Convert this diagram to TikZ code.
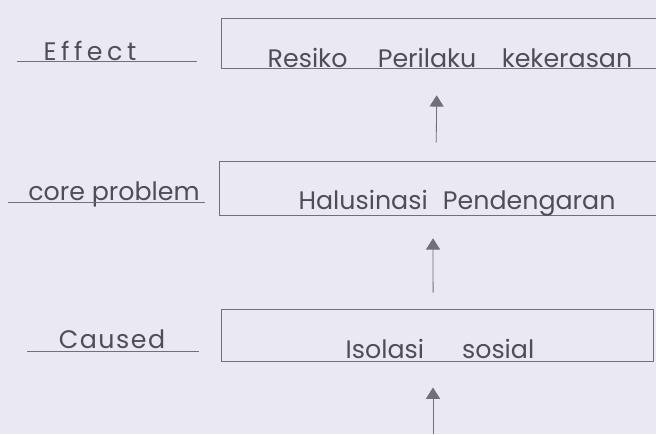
\documentclass[tikz,border=0pt]{standalone}
\usepackage{fontspec}
\setmainfont{Poppins}
\usepackage{tikz}
\usetikzlibrary{arrows.meta,positioning}
\usepackage{xcolor}
\definecolor{paper}{RGB}{234,232,240}
\definecolor{pencil}{RGB}{112,112,120}
\definecolor{lead}{RGB}{78,78,88}
\tikzstyle{arrow} = [line width=0.6pt,-{Triangle[width=10pt,length=8pt]},color=pencil]
\tikzstyle{stroke} = [line width=0.7pt,color=pencil]
\tikzstyle{level} = [rectangle, inner sep=0pt]
\tikzstyle{levtext} = [font=\fontsize{18}{21}\selectfont, text=lead, inner sep=0pt]
\tikzstyle{tag} = [font=\fontsize{18}{21}\selectfont, text=lead, inner sep=0pt]

\begin{document}
\begin{tikzpicture}[x=0.025cm, y=-0.025cm]
\fill[paper] (0,0) rectangle (656,434);
\useasboundingbox (0,0) rectangle (656,434);

% Three levels, open on the right for the upper two
\node (risk) [level, minimum width=10.85cm, minimum height=1.225cm] at (439,43.5) {};
\node (halu) [level, minimum width=10.9cm, minimum height=1.325cm] at (438,188.5) {};
\node (iso) [level, draw=pencil, line width=0.7pt, minimum width=10.775cm, minimum height=1.3cm] at (437.5,335) {};
\draw[stroke] (risk.north east) -- (risk.north west) -- (risk.south west) -- (risk.south east);
\draw[stroke] (halu.north east) -- (halu.north west) -- (halu.south west) -- (halu.south east);

% Texts in the levels
\node (risktext) [levtext] at (450,58) {Resiko\hspace{1.2em}Perilaku\hspace{1em}kekerasan};
\node (halutext) [levtext] at (457,203) {Halusinasi\hspace{0.6em}Pendengaran};
\node (isotext) [levtext] at (440,349) {Isolasi\hspace{1.5em}sosial};

% Tags on the left
\node (effect) [tag] at (90,51) {\addfontfeature{LetterSpace=18}Effect};
\node (core) [tag] at (114,194) {core problem};
\node (cause) [tag] at (112,339) {\addfontfeature{LetterSpace=6}Caused};
\draw[stroke] (17,61) -- (197,61);
\draw[stroke] (8,202) -- (205,202);
\draw[stroke] (27,351) -- (199,351);

% Arrows
\coordinate (root) at (433,434);
\draw[arrow, shorten <=0.475cm, shorten >=0.675cm] ([xshift=-0.05cm]halu.north) -- ([xshift=-0.05cm]risk.south);
\draw[arrow, shorten <=0.4cm, shorten >=0.575cm] ([xshift=-0.11cm]iso.north) -- ([xshift=-0.125cm]halu.south);
\draw[arrow, shorten >=0.65cm] (root) -- (root |- iso.south);
\end{tikzpicture}
\end{document}
